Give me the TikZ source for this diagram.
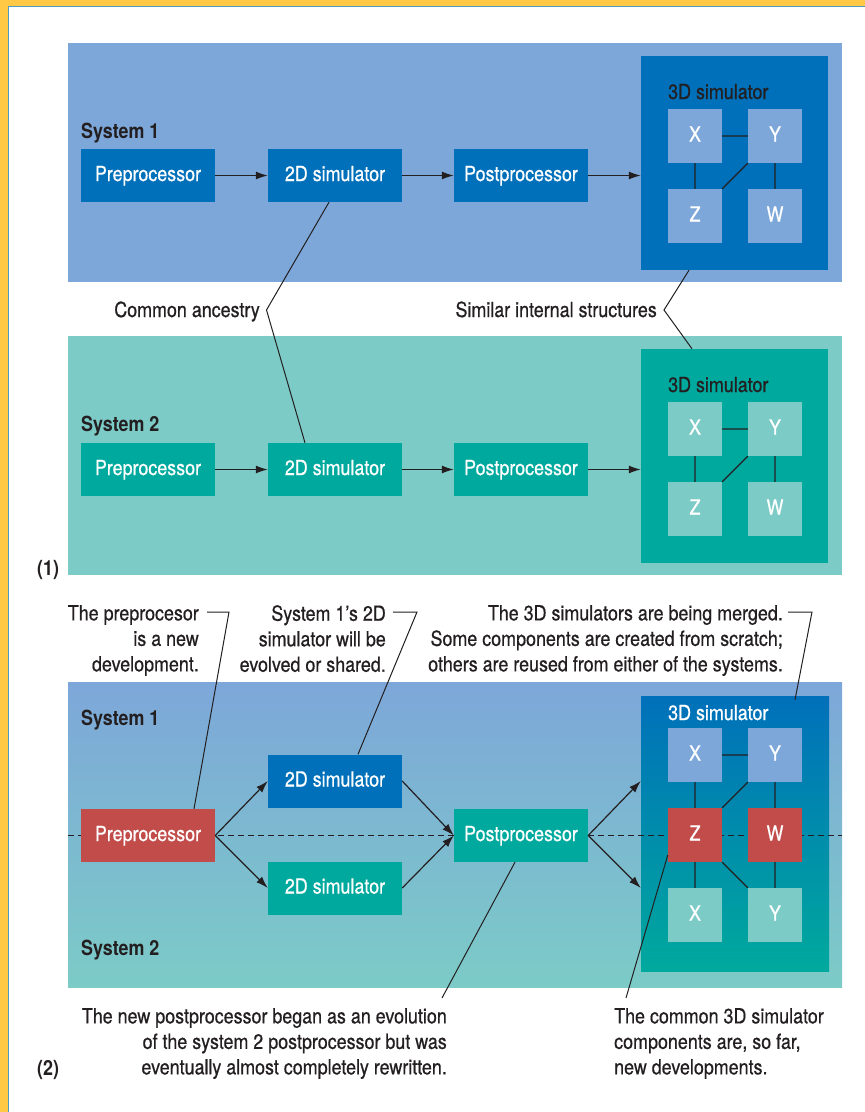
\documentclass[tikz,border=0pt]{standalone}
\usepackage{fontspec}
\setmainfont{TeX Gyre Heros}[FakeStretch=0.86, UprightFeatures={FakeBold=0.6}]
\usetikzlibrary{arrows.meta, positioning}

\definecolor{panelblue}{HTML}{7DA7D9}
\definecolor{boxblue}{HTML}{0070BA}
\definecolor{panelteal}{HTML}{7CCBC7}
\definecolor{boxteal}{HTML}{00A99D}
\definecolor{devred}{HTML}{C24C4A}
\definecolor{inkdark}{HTML}{231F20}
\definecolor{framegold}{HTML}{FFC845}
\definecolor{frameline}{HTML}{4C9DBF}

\begin{document}
\begin{tikzpicture}[x=1pt, y=-1pt,
    txt/.style={font=\fontsize{20.8}{25.5}\selectfont, text=inkdark, inner sep=0pt},
    tag/.style={txt, font=\fontsize{20.8}{25.5}\selectfont\bfseries, anchor=base west},
    stagebox/.style={txt, text=white, minimum width=134pt, minimum height=53pt, text height=15pt, text depth=4pt},
    cellbox/.style={txt, text=white, minimum width=54pt, minimum height=54pt, text height=15pt, text depth=4pt},
    shellbox/.style={inner sep=0pt, minimum width=187pt, minimum height=214pt},
    note/.style={txt, align=right, anchor=north east},
    flow/.style={draw=inkdark, line width=1.2pt, -{Latex[length=12pt,width=8pt]}},
    wire/.style={draw=inkdark, line width=1.1pt}]
    \useasboundingbox (0,0) rectangle (865,1112);  % Fixes the page size
    \fill[framegold] (0,0) rectangle (8,1112);  % Left gold band
    \fill[framegold] (0,0) rectangle (865,6);  % Top gold band
    \draw[frameline, line width=1pt] (8.5,1112) -- (8.5,6.5) -- (865,6.5);  % Thin frame line
    \fill[panelblue] (68,43) rectangle (842,282);  % Panel of system 1
    \fill[panelteal] (68,336) rectangle (842,575);  % Panel of system 2
    \shade[top color=panelblue, bottom color=panelteal] (68,682) rectangle (842,987);  % Merged panel

    % (1) system 1
    \node[tag] (sysA) at (81,138) {System 1};
    \node[stagebox, fill=boxblue] (preA) at (148,175.5) {Preprocessor};
    \node[stagebox, fill=boxblue] (simA) at (335,175.5) {2D simulator};
    \node[stagebox, fill=boxblue] (postA) at (521,175.5) {Postprocessor};
    \node[shellbox, fill=boxblue] (sdA) at (734.5,163) {};
    \node[txt, anchor=base west] (sdlabA) at (668,99) {3D simulator};
    \node[cellbox, fill=panelblue] (xA) at (695,136) {X};
    \node[cellbox, fill=panelblue] (yA) at (775,136) {Y};
    \node[cellbox, fill=panelblue] (zA) at (695,216) {Z};
    \node[cellbox, fill=panelblue] (wA) at (775,216) {W};
    \draw[flow] (preA) -- (simA);  % Arrows along system 1
    \draw[flow] (simA) -- (postA);
    \draw[flow] (postA) -- (sdA.west |- postA.east);
    \draw[wire] (xA) -- (yA) (xA) -- (zA) (yA.south west) -- (zA.north east) (yA) -- (wA);

    % (1) system 2
    \node[tag] (sysB) at (81,431) {System 2};
    \node[stagebox, fill=boxteal] (preB) at (148,469.5) {Preprocessor};
    \node[stagebox, fill=boxteal] (simB) at (335,469.5) {2D simulator};
    \node[stagebox, fill=boxteal] (postB) at (521,469.5) {Postprocessor};
    \node[shellbox, fill=boxteal] (sdB) at (734.5,456) {};
    \node[txt, anchor=base west] (sdlabB) at (668,392) {3D simulator};
    \node[cellbox, fill=panelteal] (xB) at (695,429) {X};
    \node[cellbox, fill=panelteal] (yB) at (775,429) {Y};
    \node[cellbox, fill=panelteal] (zB) at (695,509) {Z};
    \node[cellbox, fill=panelteal] (wB) at (775,509) {W};
    \draw[flow] (preB) -- (simB);  % Arrows along system 2
    \draw[flow] (simB) -- (postB);
    \draw[flow] (postB) -- (sdB.west |- postB.east);
    \draw[wire] (xB) -- (yB) (xB) -- (zB) (yB.south west) -- (zB.north east) (yB) -- (wB);

    % leaders between the two systems
    \node[txt, anchor=base east] (ancestry) at (260,317) {Common ancestry};
    \node[txt, anchor=base east] (similar) at (657,317) {Similar internal structures};
    \coordinate (kinkAnc) at (266.5,310);
    \coordinate (kinkSim) at (664,310);
    \draw[wire, line width=1pt] ([xshift=-6pt]simA.south) -- (kinkAnc) -- ([xshift=-30pt]simB.north);
    \draw[wire, line width=1pt] ([xshift=-45.5pt]sdA.south) -- (kinkSim) -- ([xshift=-42.5pt]sdB.north);
    \node[tag] (numA) at (37,575) {(1)};

    % (2) merged systems
    \node[shellbox, minimum width=188pt, minimum height=275pt, top color=boxblue, bottom color=boxteal] (sdC) at (735,833.5) {};
    \coordinate (dashL) at (68,835.5);
    \coordinate (dashR) at (842,835.5);
    \draw[wire, line width=1pt, dash pattern=on 6pt off 4pt] (dashL) -- (dashR);  % Border between the systems
    \node[tag] (sysC) at (81,725) {System 1};
    \node[tag] (sysD) at (81,955) {System 2};
    \node[stagebox, fill=devred] (preC) at (148,835.5) {Preprocessor};
    \node[stagebox, fill=boxblue] (simC) at (335,781) {2D simulator};
    \node[stagebox, fill=boxteal] (simD) at (335,888) {2D simulator};
    \node[stagebox, fill=boxteal] (postC) at (521,835.5) {Postprocessor};
    \node[txt, text=white, anchor=base west] (sdlabC) at (668,720) {3D simulator};
    \node[cellbox, fill=panelblue] (xC) at (695,755) {X};
    \node[cellbox, fill=panelblue] (yC) at (775,755) {Y};
    \node[cellbox, fill=devred] (zC) at (695,835) {Z};
    \node[cellbox, fill=devred] (wC) at (775,835) {W};
    \node[cellbox, fill=panelteal] (xD) at (695,915) {X};
    \node[cellbox, fill=panelteal] (yD) at (775,915) {Y};
    \draw[flow] (preC.east) -- (simC.west);  % Arrows of the merged flow
    \draw[flow] (preC.east) -- (simD.west);
    \draw[flow] (simC.east) -- (postC.west);
    \draw[flow] (simD.east) -- (postC.west);
    \draw[flow] (postC.east) -- (sdC.west |- simC.west);
    \draw[flow] (postC.east) -- (sdC.west |- simD.west);
    \draw[wire] (xC) -- (yC) (xC) -- (zC) (yC.south west) -- (zC.north east) (yC) -- (wC);
    \draw[wire] (zC) -- (xD) (zC.south east) -- (yD.north west) (wC) -- (yD);

    % notes of (2)
    \node[note] (notePre) at (199,605) {The preprocesor\\is a new\\development.};
    \node[note] (noteSim) at (386,605) {System 1’s 2D\\simulator will be\\evolved or shared.};
    \node[note] (noteSd) at (783,605) {The 3D simulators are being merged.\\Some components are created from scratch;\\others are reused from either of the systems.};
    \node[note] (notePost) at (447,1008) {The new postprocessor began as an evolution\\of the system 2 postprocessor but was\\eventually almost completely rewritten.};
    \node[txt, align=left, anchor=north west] (noteCell) at (614,1008) {The common 3D simulator\\components are, so far,\\new developments.};
    \draw[wire, line width=1pt] ([xshift=8pt,yshift=-7pt]notePre.north east) -- ++(22,0) -- ([xshift=46pt]preC.north);
    \draw[wire, line width=1pt] ([xshift=7pt,yshift=-7pt]noteSim.north east) -- ++(24,0) -- ([xshift=23pt]simC.north);
    \draw[wire, line width=1pt] ([xshift=5pt,yshift=-7pt]noteSd.north east) -- ++(24,0) -- ([xshift=60pt,yshift=-4pt]sdC.north);
    \coordinate (endPost) at (442,998);
    \coordinate (endCell) at (626,998);
    \draw[wire, line width=1pt] ([xshift=-6pt]postC.south) -- (endPost);
    \draw[wire, line width=1pt] ([yshift=-20pt]zC.west) -- (endCell);
    \node[tag] (numB) at (37,1075) {(2)};
\end{tikzpicture}
\end{document}
